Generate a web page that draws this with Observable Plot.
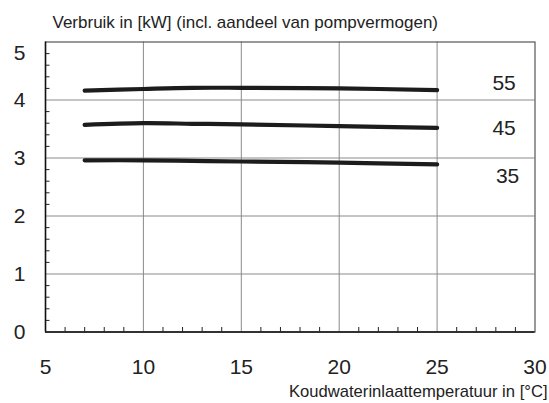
<!DOCTYPE html>
<html>
<head>
<meta charset="utf-8">
<script src="https://cdn.jsdelivr.net/npm/d3@7"></script>
<script src="https://cdn.jsdelivr.net/npm/@observablehq/plot@0.6"></script>
<style>
  body { margin: 0; background: #fff; }
  svg { display: block; }
</style>
</head>
<body>
<div id="chart"></div>
<script>
// Cold-water inlet temperature (°C) at which consumption was read
const inletTemps = [7, 10, 12.5, 15, 20, 25];

// Consumption in kW per supply temperature curve
const curveNames = ["55", "45", "35"];
const power55 = [4.16, 4.19, 4.21, 4.21, 4.20, 4.17];
const power45 = [3.57, 3.60, 3.59, 3.58, 3.55, 3.52];
const power35 = [2.96, 2.96, 2.95, 2.94, 2.92, 2.89];

// Axis ticks
const xTicks = [5, 10, 15, 20, 25, 30];
const yTicks = [0, 1, 2, 3, 4, 5];

const title = "Verbruik in [kW] (incl. aandeel van pompvermogen)";
const xTitle = "Koudwaterinlaattemperatuur in [°C]";

const seriesValues = {"55": power55, "45": power45, "35": power35};
const rows = curveNames.flatMap(name =>
  inletTemps.map((t, i) => ({curve: name, temp: t, kw: seriesValues[name][i]}))
);

// Curve labels sit to the right of each line's end
const labelOffsets = {"55": {dx: 67, dy: -7}, "45": {dx: 67, dy: 0}, "35": {dx: 70.5, dy: 12}};
const lastRows = curveNames.map(name => rows.filter(r => r.curve === name).at(-1));

const W = 549, H = 403;
const mL = 45, mR = 14.5, mT = 41.5, mB = 71.5;
const plotW = W - mL - mR, plotH = H - mT - mB;

const minorX = d3.range(6, 30).filter(v => v % 5 !== 0);
const minorY = d3.range(0.2, 5, 0.2).filter(v => Math.abs(v - Math.round(v)) > 1e-6);

const font = "'Liberation Sans', Arial, Helvetica, sans-serif";
const labelSize = 21;

const chart = Plot.plot({
  width: W,
  height: H,
  marginLeft: mL,
  marginRight: mR,
  marginTop: mT,
  marginBottom: mB,
  style: {fontFamily: font, background: "#fff", color: "#222"},
  x: {domain: [5, 30], axis: null},
  y: {domain: [0, 5], axis: null},
  marks: [
    // grid
    Plot.ruleX(xTicks.slice(1, -1), {stroke: "#8a8a8a", strokeWidth: 1}),
    Plot.ruleY(yTicks.slice(1, -1), {stroke: "#8a8a8a", strokeWidth: 1}),
    // minor ticks pointing inward
    Plot.tickX(minorX, {x: d => d, insetTop: plotH - 4.5, stroke: "#222", strokeWidth: 1}),
    Plot.tickY(minorY, {y: d => d, insetRight: plotW - 4.5, stroke: "#222", strokeWidth: 1}),
    Plot.frame({stroke: "#555", strokeWidth: 1.2}),
    Plot.ruleX([5], {stroke: "#111", strokeWidth: 1.5}),
    Plot.ruleY([0], {stroke: "#111", strokeWidth: 1.5}),
    // curves
    Plot.line(rows, {
      x: "temp", y: "kw", z: "curve",
      stroke: "#1c1c1c", strokeWidth: 4.2,
      strokeLinecap: "round", curve: "catmull-rom"
    }),
    // curve labels
    ...curveNames.map((name, i) =>
      Plot.text([lastRows[i]], {
        x: "temp", y: "kw", text: () => name,
        dx: labelOffsets[name].dx, dy: labelOffsets[name].dy,
        textAnchor: "middle", lineAnchor: "middle",
        fontSize: labelSize, fill: "#222"
      })
    ),
    // x tick labels
    Plot.text(xTicks, {x: d => d, y: 0, text: d => String(d), dy: 35,
      textAnchor: "middle", lineAnchor: "middle", fontSize: labelSize, fill: "#222"}),
    // y tick labels
    Plot.text(yTicks.filter(v => v < 5), {x: 5, y: d => d, text: d => String(d), dx: -26,
      textAnchor: "middle", lineAnchor: "middle", fontSize: labelSize, fill: "#222"}),
    Plot.text(yTicks.filter(v => v === 5), {x: 5, y: d => d, text: d => String(d), dx: -26, dy: 11,
      textAnchor: "middle", lineAnchor: "middle", fontSize: labelSize, fill: "#222"}),
    // titles
    Plot.text([title], {frameAnchor: "top-left", dx: 7, dy: -19,
      textAnchor: "start", lineAnchor: "middle", fontSize: 17, fill: "#222"}),
    Plot.text([xTitle], {frameAnchor: "bottom-right", dx: 12.5, dy: 60,
      textAnchor: "end", lineAnchor: "middle", fontSize: 16.6, fill: "#222"})
  ]
});

document.getElementById("chart").append(chart);
</script>
</body>
</html>
